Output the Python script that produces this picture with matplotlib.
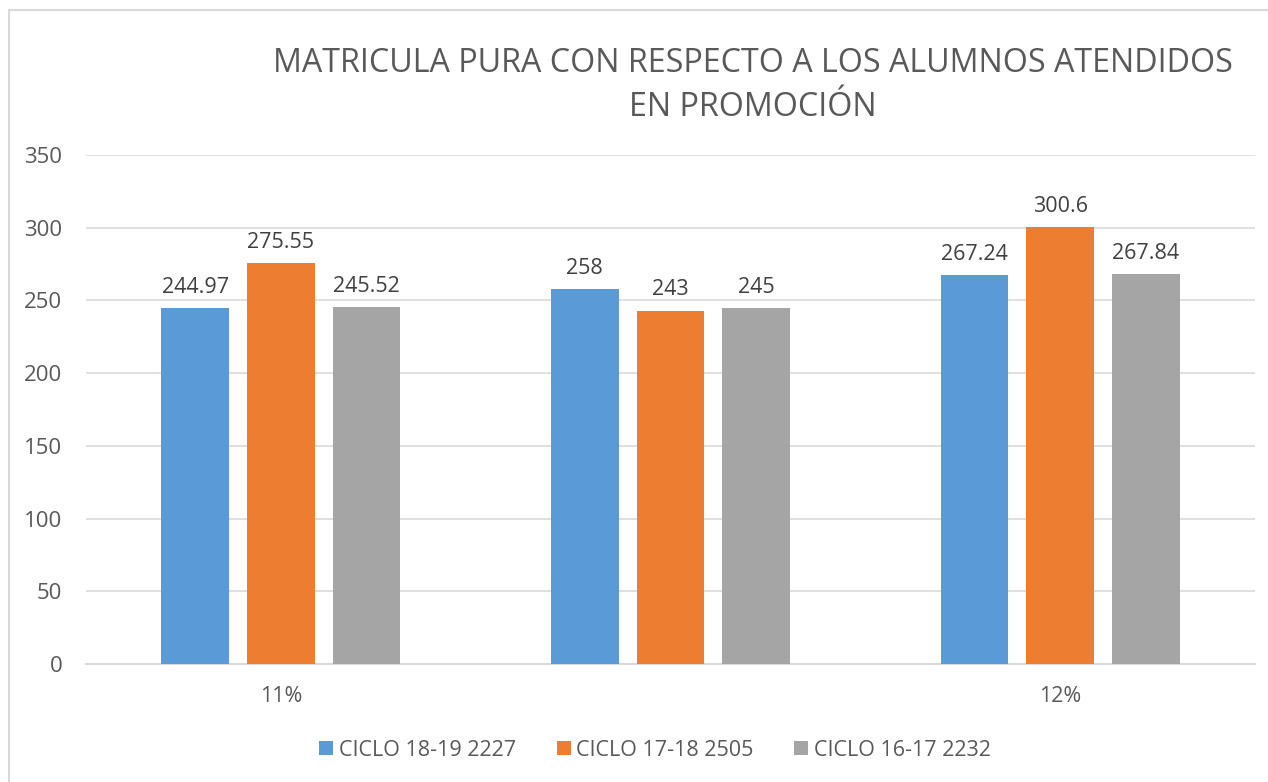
import matplotlib
matplotlib.use("Agg")
import matplotlib.pyplot as plt
import numpy as np
from matplotlib.patches import Rectangle

categories = ["11%", "", "12%"]
series_names = ["CICLO 18-19 2227", "CICLO 17-18 2505", "CICLO 16-17 2232"]
ciclo_18_19 = [244.97, 258, 267.24]
ciclo_17_18 = [275.55, 243, 300.6]
ciclo_16_17 = [245.52, 245, 267.84]
labels_18_19 = ["244.97", "258", "267.24"]
labels_17_18 = ["275.55", "243", "300.6"]
labels_16_17 = ["245.52", "245", "267.84"]
colors = ["#5b9bd5", "#ed7d31", "#a5a5a5"]

TXT = "#595959"
plt.rcParams["font.family"] = ["Open Sans", "DejaVu Sans"]

fig = plt.figure(figsize=(12.68, 7.82), dpi=100)
W, H = 1268, 782
# plot area in pixels: x 86..1255, y 155..664
ax = fig.add_axes([86 / W, 1 - 664 / H, (1255 - 86) / W, (664 - 155) / H])

x = np.arange(len(categories))
bw = 0.174
step = 0.22
series = [ciclo_18_19, ciclo_17_18, ciclo_16_17]
labels = [labels_18_19, labels_17_18, labels_16_17]
for i, (vals, labs) in enumerate(zip(series, labels)):
    pos = x + (i - 1) * step
    ax.bar(pos, vals, width=bw, color=colors[i], label=series_names[i], zorder=3)
    for p, v, t in zip(pos, vals, labs):
        ax.text(p, v + 7, t, ha="center", va="bottom", fontsize=15.5, color="#404040")

ax.set_xlim(-0.5, 2.5)
ax.set_ylim(0, 350)
ax.set_yticks(range(0, 351, 50))
ax.yaxis.grid(True, color="#d9d9d9", lw=1.2, zorder=0)
ax.set_axisbelow(True)
for s in ["top", "right", "left"]:
    ax.spines[s].set_visible(False)
ax.spines["bottom"].set_color("#d9d9d9")
ax.spines["bottom"].set_linewidth(1.5)
ax.tick_params(axis="y", length=0, labelsize=16, labelcolor=TXT, pad=17)
ax.tick_params(axis="x", length=0, pad=16)
ax.set_xticks(x)
ax.set_xticklabels(categories, fontsize=15.5, color=TXT)

fig.text(753 / W, 1 - 64 / H, "MATRICULA PURA CON RESPECTO A LOS ALUMNOS ATENDIDOS",
         ha="center", va="center", fontsize=23.2, color=TXT)
fig.text(753 / W, 1 - 107 / H, "EN PROMOCIÓN",
         ha="center", va="center", fontsize=23.2, color=TXT)

leg = fig.legend(loc="center", bbox_to_anchor=(655 / W, 1 - 750 / H), ncol=3,
                 frameon=False, handlelength=0.65, handleheight=0.65, handletextpad=0.25,
                 columnspacing=1.9, prop={"size": 15.5})
for t in leg.get_texts():
    t.set_color(TXT)

# chart border (left and top visible)
fig.add_artist(Rectangle((9 / W, -0.01), 1.1, 1 - 10 / H + 0.01, transform=fig.transFigure,
                         fill=False, edgecolor="#d9d9d9", lw=1.5))

fig.savefig("out.png", dpi=100)
